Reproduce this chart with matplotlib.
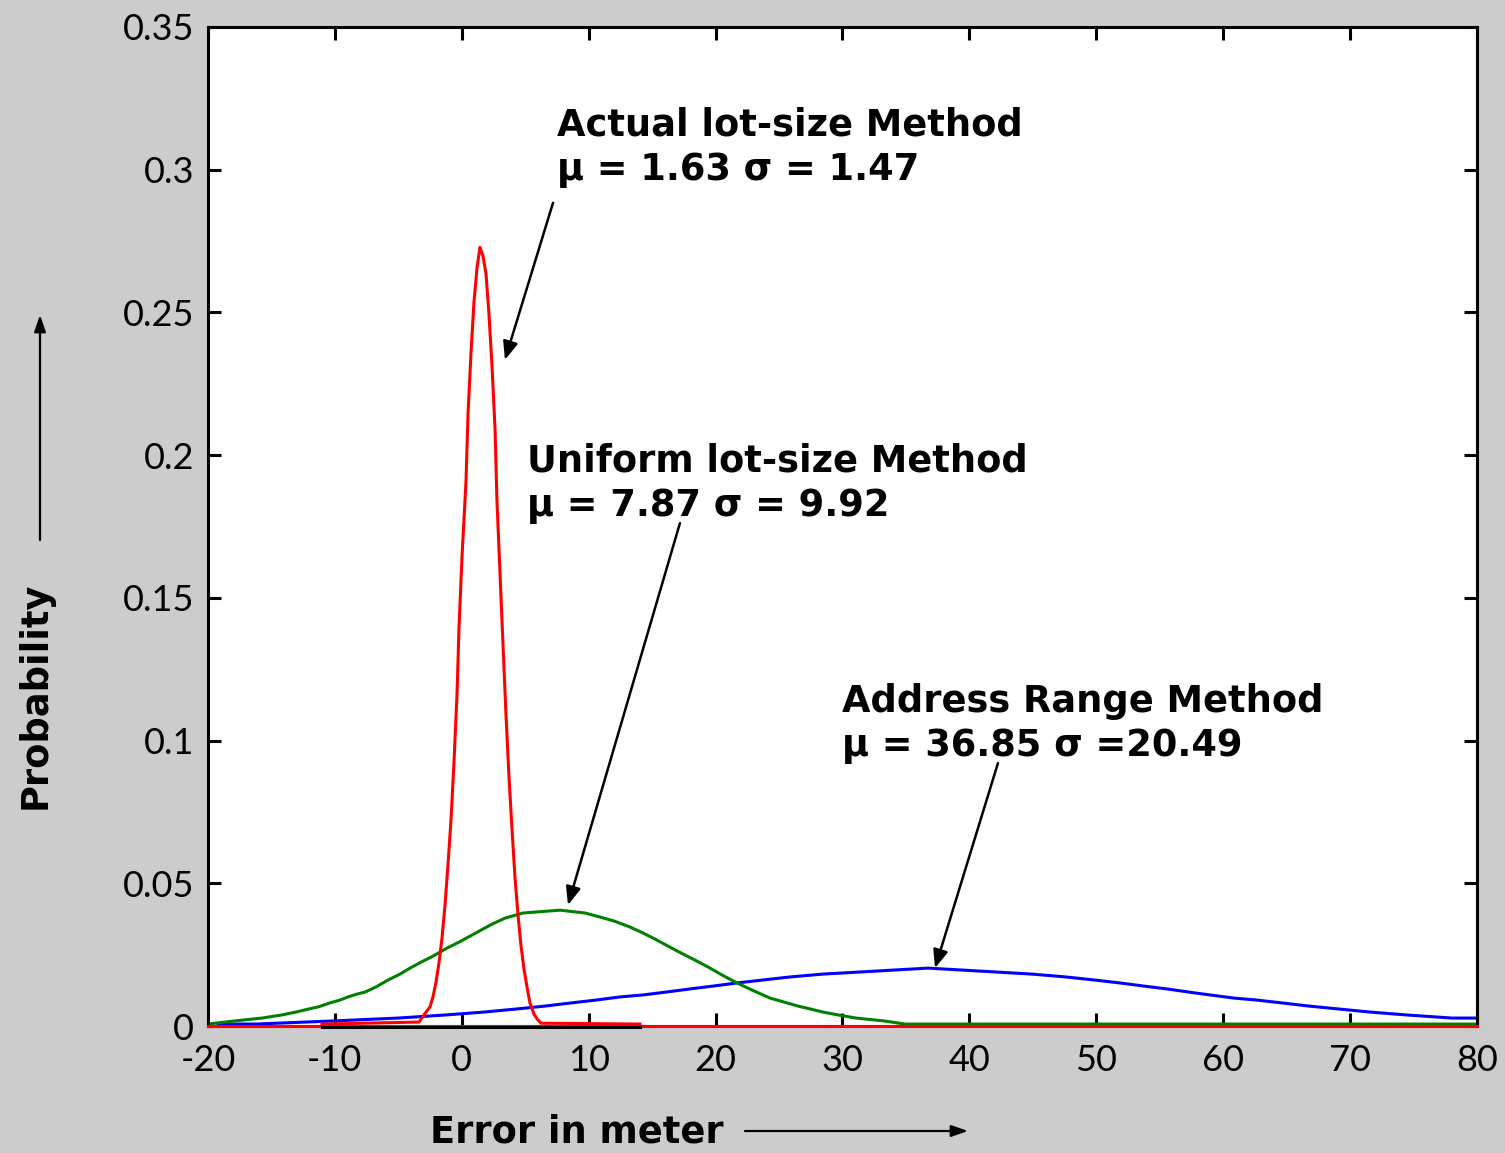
import matplotlib.pyplot as plt

# values
x_ticks = [-20, -10, 0, 10, 20, 30, 40, 50, 60, 70, 80]
y_ticks = [0, 0.05, 0.1, 0.15, 0.2, 0.25, 0.3, 0.35]
y_tick_labels = ["0", "0.05", "0.1", "0.15", "0.2", "0.25", "0.3", "0.35"]

actual_x = [-11.02, -3.37, -2.98, -2.51, -2.27, -2.03, -1.80, -1.56, -1.32, -1.09, -0.85, -0.61,
            -0.38, -0.22, 0.02, 0.33, 0.49, 0.73, 0.96, 1.20, 1.43, 1.67, 1.91, 2.14, 2.38,
            2.62, 2.77, 3.01, 3.25, 3.48, 3.72, 3.96, 4.19, 4.43, 4.66, 4.90, 5.14, 5.37,
            5.69, 5.93, 6.24, 14.04]
actual_y = [0.0007, 0.0014, 0.0039, 0.0067, 0.0102, 0.0154, 0.0221, 0.0308, 0.0424, 0.0564,
            0.0722, 0.0929, 0.1157, 0.1395, 0.1647, 0.1906, 0.2144, 0.2362, 0.2537, 0.2656,
            0.2728, 0.2698, 0.2635, 0.2495, 0.2313, 0.2092, 0.1843, 0.1587, 0.1335, 0.1093,
            0.0872, 0.0687, 0.0522, 0.0389, 0.0284, 0.0200, 0.0137, 0.0081, 0.0042, 0.0025,
            0.0010, 0.0007]

uniform_x = [-20.0, -17.87, -15.74, -14.17, -13.07, -12.04, -11.33, -10.39, -9.60, -8.97, -8.26,
             -7.63, -6.76, -5.82, -4.87, -4.08, -3.21, -2.27, -1.17, -0.22, 0.65, 1.51, 2.38,
             3.40, 4.82, 7.74, 9.71, 10.89, 12.0, 13.25, 14.28, 15.22, 16.25, 17.27, 18.38,
             19.40, 20.50, 21.69, 22.87, 24.29, 25.63, 26.49, 27.44, 28.46, 29.65, 31.06,
             33.27, 34.92, 80.0]
uniform_y = [0.0007, 0.0018, 0.0028, 0.0039, 0.0049, 0.0060, 0.0067, 0.0081, 0.0091, 0.0102,
             0.0112, 0.0119, 0.0137, 0.0161, 0.0182, 0.0203, 0.0224, 0.0245, 0.0273, 0.0294,
             0.0315, 0.0336, 0.0357, 0.0378, 0.0396, 0.0406, 0.0396, 0.0382, 0.0368, 0.0347,
             0.0326, 0.0305, 0.0280, 0.0256, 0.0231, 0.0207, 0.0179, 0.0151, 0.0126, 0.0098,
             0.0081, 0.0070, 0.0060, 0.0049, 0.0039, 0.0028, 0.0018, 0.0007, 0.0007]

address_x = [-19.2, -16.22, -10.07, -5.03, -1.24, 1.75, 4.35, 6.56, 8.61, 10.57, 12.47, 14.28,
             16.09, 17.98, 19.79, 21.69, 23.66, 25.86, 28.46, 32.80, 36.74, 40.68, 44.93,
             47.61, 49.90, 51.87, 53.76, 55.57, 57.30, 58.96, 60.85, 62.66, 64.63, 66.76,
             69.05, 71.57, 74.41, 78.03, 80.0]
address_y = [0.0007, 0.0007, 0.0018, 0.0028, 0.0039, 0.0049, 0.0060, 0.0070, 0.0081, 0.0091,
             0.0102, 0.0109, 0.0119, 0.0130, 0.0140, 0.0151, 0.0161, 0.0172, 0.0182, 0.0193,
             0.0203, 0.0193, 0.0182, 0.0172, 0.0161, 0.0151, 0.0140, 0.0130, 0.0119, 0.0109,
             0.0098, 0.0091, 0.0081, 0.0070, 0.0060, 0.0049, 0.0039, 0.0028, 0.0028]

bg = "#cccccc"
lw = 2.2

fig = plt.figure(figsize=(15.05, 11.53), dpi=100, facecolor=bg)
ax = fig.add_axes([0.1382, 0.1101, 0.8432, 0.8665])
ax.set_facecolor("white")

# zero line of the red curve drawn over the axis, with a black piece in the middle
ax.plot([-20, 80], [0, 0], color="red", lw=lw, zorder=8, clip_on=False)
ax.plot([-11.02, 14.04], [-0.0004, -0.0004], color="black", lw=lw, zorder=11, clip_on=False)
ax.plot(address_x, address_y, color="blue", lw=lw, zorder=4)
ax.plot(uniform_x, uniform_y, color="green", lw=lw, zorder=5)
ax.plot(actual_x, actual_y, color="red", lw=lw, zorder=10)

ax.set_xlim(-20, 80)
ax.set_ylim(0, 0.35)
ax.set_xticks(x_ticks)
ax.set_xticklabels([str(v) for v in x_ticks])
ax.set_yticks(y_ticks)
ax.set_yticklabels(y_tick_labels)
ax.tick_params(direction="in", length=9.5, width=2.2, top=True, right=True,
               labelsize=26, colors="black")
ax.tick_params(axis="x", pad=13)
ax.tick_params(axis="y", pad=10)
for lab in ax.get_xticklabels() + ax.get_yticklabels():
    lab.set_family(["Lato", "DejaVu Sans"])
    lab.set_color("black")
for sp in ax.spines.values():
    sp.set_linewidth(2.2)
    sp.set_zorder(7)

tfont = dict(fontsize=26.5, fontweight="bold", family="DejaVu Sans", va="top", ha="left",
             linespacing=1.25)
ax.text(7.5, 0.3222, "Actual lot-size Method\nμ = 1.63 σ = 1.47", **tfont)
ax.text(5.1, 0.2045, "Uniform lot-size Method\nμ = 7.87 σ = 9.92", **tfont)
ax.text(30.0, 0.1202, "Address Range Method\nμ = 36.85 σ =20.49", **tfont)

arrow = dict(arrowstyle="-|>,head_length=1.1,head_width=0.45", color="black", lw=1.8,
             shrinkA=0, shrinkB=0)
ax.annotate("", xy=(3.40, 0.2334), xytext=(7.19, 0.2884), arrowprops=arrow)
ax.annotate("", xy=(8.37, 0.0424), xytext=(17.19, 0.1762), arrowprops=arrow)
ax.annotate("", xy=(37.29, 0.0203), xytext=(42.25, 0.0921), arrowprops=arrow)

# axis titles with their arrows, placed in figure fractions
fig.text(577 / 1505, 1 - 1132 / 1153, "Error in meter", fontsize=26.5, fontweight="bold",
         ha="center", va="center")
fig.text(35 / 1505, 1 - 695 / 1153, "Probability", fontsize=26.5, fontweight="bold",
         rotation=90, ha="center", va="center")
fig_arrow = dict(arrowstyle="-|>,head_length=1.0,head_width=0.35", color="black", lw=1.6,
                 shrinkA=0, shrinkB=0)
fig.add_artist(plt.Annotation("", xy=(968 / 1505, 1 - 1131 / 1153),
                              xytext=(745 / 1505, 1 - 1131 / 1153),
                              xycoords="figure fraction", arrowprops=fig_arrow))
fig.add_artist(plt.Annotation("", xy=(40 / 1505, 1 - 315 / 1153),
                              xytext=(40 / 1505, 1 - 540 / 1153),
                              xycoords="figure fraction", arrowprops=fig_arrow))

fig.savefig("out.png", dpi=100, facecolor=bg)
